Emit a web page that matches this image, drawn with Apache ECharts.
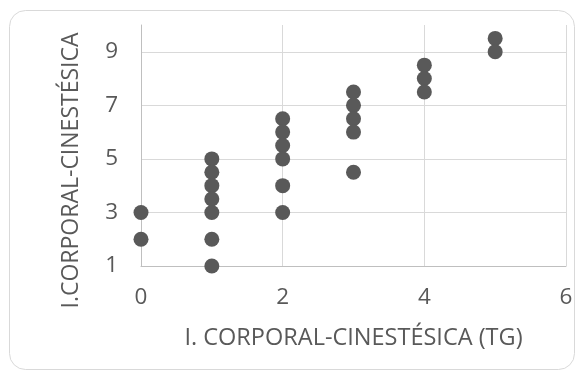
<!DOCTYPE html>
<html>
<head>
<meta charset="utf-8">
<script src="https://cdn.jsdelivr.net/npm/echarts@6/dist/echarts.min.js"></script>
<style>
html,body{margin:0;padding:0;background:#fff;}
#c{width:576px;height:372px;}
</style>
</head>
<body>
<div id="c"></div>
<script>
// Data
const xValues = [0, 0, 1, 1, 1, 1, 1, 1, 1, 2, 2, 2, 2, 2, 2, 3, 3, 3, 3, 3, 4, 4, 4, 5, 5];
const yValues = [3, 2, 5, 4.5, 4, 3.5, 3, 2, 1, 6.5, 6, 5.5, 5, 4, 3, 7.5, 7, 6.5, 6, 4.5, 8.5, 8, 7.5, 9.5, 9];
const xTitle = 'I. CORPORAL-CINESTÉSICA (TG)';
const yTitle = 'I.CORPORAL-CINESTÉSICA';

const points = xValues.map((x, i) => [x, yValues[i]]);
const font = '"Open Sans", "DejaVu Sans", sans-serif';
const textColor = '#595959';

const chart = echarts.init(document.getElementById('c'), null, {renderer: 'canvas'});
chart.setOption({
  backgroundColor: '#ffffff',
  animation: false,
  graphic: [{
    type: 'rect',
    shape: {x: 9.5, y: 10.5, width: 565, height: 359, r: 16},
    style: {fill: 'none', stroke: '#d9d9d9', lineWidth: 1},
    silent: true,
    z: -10
  }],
  grid: {left: 141, right: 10, top: 25, bottom: 106, containLabel: false},
  xAxis: {
    type: 'value',
    min: 0, max: 6, interval: 2,
    name: xTitle,
    nameLocation: 'middle',
    nameGap: 60,
    nameTextStyle: {color: textColor, fontSize: 23.5, fontFamily: font},
    axisLine: {show: true, lineStyle: {color: '#bfbfbf', width: 1}},
    axisTick: {show: false},
    axisLabel: {color: textColor, fontSize: 22.5, fontFamily: font, margin: 20},
    splitLine: {show: true, lineStyle: {color: '#d9d9d9', width: 1}}
  },
  yAxis: {
    type: 'value',
    min: 1, max: 10, interval: 2,
    name: yTitle,
    nameLocation: 'middle',
    nameRotate: 90,
    nameGap: 58,
    nameTextStyle: {color: textColor, fontSize: 23, fontFamily: font, padding: [0, 50, 0, 0]},
    axisLine: {show: true, lineStyle: {color: '#bfbfbf', width: 1}},
    axisTick: {show: false},
    axisLabel: {
      color: textColor, fontSize: 22.5, fontFamily: font, margin: 23,
      formatter: v => (v === 10 ? '' : String(v))
    },
    splitLine: {show: true, lineStyle: {color: ['#d9d9d9', '#d9d9d9', '#d9d9d9', '#d9d9d9', '#d9d9d9', 'rgba(0,0,0,0)'], width: 1}}
  },
  series: [{
    type: 'scatter',
    data: points,
    symbol: 'circle',
    symbolSize: 15,
    itemStyle: {color: '#595959', opacity: 1},
    clip: false
  }]
});
</script>
</body>
</html>
